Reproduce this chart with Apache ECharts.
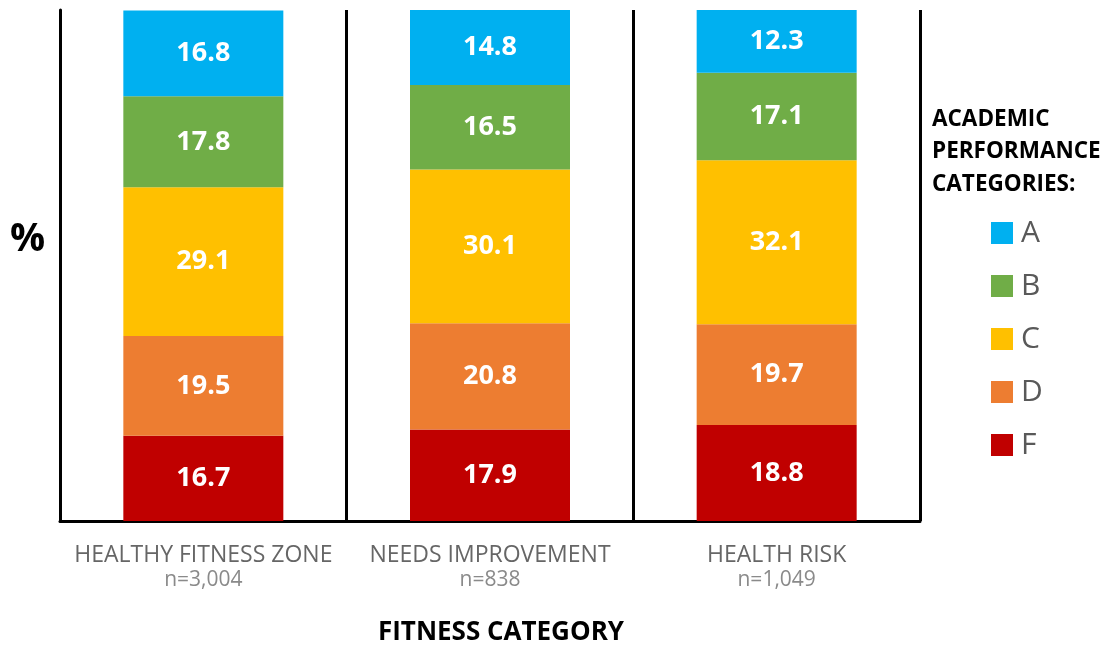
<!DOCTYPE html>
<html>
<head>
<meta charset="utf-8">
<script src="https://cdn.jsdelivr.net/npm/echarts@6/dist/echarts.min.js"></script>
<style>
  html, body { margin: 0; padding: 0; background: #fff; }
  #chart { width: 1110px; height: 645px; }
</style>
</head>
<body>
<div id="chart"></div>
<script>
// Fitness categories along the x axis, with sample sizes
const categories = ['HEALTHY FITNESS ZONE', 'NEEDS IMPROVEMENT', 'HEALTH RISK'];
const sampleSizes = ['3,004', '838', '1,049'];

// Share (%) of each academic performance grade within a fitness category
const gradeA = [16.8, 14.8, 12.3];
const gradeB = [17.8, 16.5, 17.1];
const gradeC = [29.1, 30.1, 32.1];
const gradeD = [19.5, 20.8, 19.7];
const gradeF = [16.7, 17.9, 18.8];

const gradeColors = {
  A: '#00B0F0',
  B: '#70AD47',
  C: '#FFC000',
  D: '#ED7D31',
  F: '#C00000'
};

const FONT = '"Open Sans", "Liberation Sans", sans-serif';

function stackSeries(name, values) {
  return {
    name: name,
    type: 'bar',
    stack: 'grades',
    barWidth: 160,
    data: values,
    itemStyle: { color: gradeColors[name] },
    label: {
      show: true,
      position: 'inside',
      color: '#ffffff',
      fontFamily: FONT,
      fontWeight: 'bold',
      fontSize: 27,
      formatter: p => p.value.toFixed(1)
    },
    emphasis: { disabled: true }
  };
}

const chart = echarts.init(document.getElementById('chart'), null, { renderer: 'canvas' });

chart.setOption({
  animation: false,
  backgroundColor: '#ffffff',
  grid: { left: 60, right: 190, top: 10, bottom: 124, outerBoundsMode: 'none', containLabel: false },
  xAxis: {
    type: 'category',
    data: categories,
    name: 'FITNESS CATEGORY',
    nameLocation: 'middle',
    nameGap: 97,
    nameTextStyle: {
      fontFamily: FONT,
      fontWeight: 'bold',
      fontSize: 26,
      lineHeight: 30,
      color: '#000000',
      padding: [0, 0, 0, 22]
    },
    axisLine: { show: true, lineStyle: { color: '#000000', width: 3 } },
    axisTick: { show: false },
    splitLine: {
      show: true,
      interval: 0,
      lineStyle: { color: '#000000', width: 3 }
    },
    axisLabel: {
      interval: 0,
      margin: 22,
      formatter: (value, idx) => '{name|' + value + '}\n{n|n=' + sampleSizes[idx] + '}',
      rich: {
        name: { fontFamily: FONT, fontSize: 23, lineHeight: 25, color: '#666666' },
        n: { fontFamily: FONT, fontSize: 21, lineHeight: 25, color: '#8a8a8a' }
      }
    }
  },
  yAxis: {
    type: 'value',
    min: 0,
    max: 100,
    axisLine: { show: true, lineStyle: { color: '#000000', width: 3 } },
    axisTick: { show: false },
    axisLabel: { show: false },
    splitLine: { show: false }
  },
  legend: {
    orient: 'vertical',
    left: 986,
    top: 212,
    padding: 5,
    data: ['A', 'B', 'C', 'D', 'F'],
    icon: 'rect',
    itemWidth: 22,
    itemHeight: 22,
    itemGap: 21,
    selectedMode: false,
    textStyle: {
      fontFamily: FONT,
      fontSize: 30,
      lineHeight: 32,
      color: '#595959',
      padding: [0, 0, 0, 3]
    }
  },
  graphic: [
    {
      type: 'text',
      left: 932,
      top: 103,
      style: {
        text: 'ACADEMIC\nPERFORMANCE\nCATEGORIES:',
        fontFamily: FONT,
        fontWeight: 'bold',
        fontSize: 22.5,
        lineHeight: 32.5,
        fill: '#000000'
      }
    },
    {
      type: 'text',
      left: 10,
      top: 220,
      style: {
        text: '%',
        fontFamily: FONT,
        fontWeight: 'bold',
        fontSize: 39,
        fill: '#000000'
      }
    }
  ],
  series: [
    stackSeries('F', gradeF),
    stackSeries('D', gradeD),
    stackSeries('C', gradeC),
    stackSeries('B', gradeB),
    stackSeries('A', gradeA)
  ]
});
</script>
</body>
</html>
